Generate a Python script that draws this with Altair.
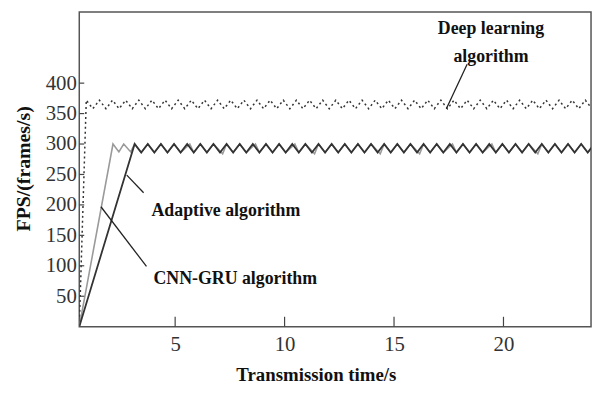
import altair as alt
import pandas as pd

# ---------------- data ----------------
# Adaptive algorithm (dark solid line)
adaptive_t = [0.62,
              3.15, 3.45, 3.75, 4.05, 4.35, 4.65, 4.95, 5.25, 5.55, 5.85,
              6.15, 6.45, 6.75, 7.05, 7.35, 7.65, 7.95, 8.25, 8.55, 8.85,
              9.15, 9.45, 9.75, 10.05, 10.35, 10.65, 10.95, 11.25, 11.55, 11.85,
              12.15, 12.45, 12.75, 13.05, 13.35, 13.65, 13.95, 14.25, 14.55, 14.85,
              15.15, 15.45, 15.75, 16.05, 16.35, 16.65, 16.95, 17.25, 17.55, 17.85,
              18.15, 18.45, 18.75, 19.05, 19.35, 19.65, 19.95, 20.25, 20.55, 20.85,
              21.15, 21.45, 21.75, 22.05, 22.35, 22.65, 22.95, 23.25, 23.55, 23.85,
              24.15]
adaptive_v = [0,
              300, 286, 300, 286, 300, 286, 300, 286, 300, 286,
              300, 286, 300, 286, 300, 286, 300, 286, 300, 286,
              300, 286, 300, 286, 300, 286, 300, 286, 300, 286,
              300, 286, 300, 286, 300, 286, 300, 286, 300, 286,
              300, 286, 300, 286, 300, 286, 300, 286, 300, 286,
              300, 286, 300, 286, 300, 286, 300, 286, 300, 286,
              300, 286, 300, 286, 300, 286, 300, 286, 300, 286,
              300]

# CNN-GRU algorithm (grey solid line)
cnn_t = [0.62, 2.16, 2.43, 2.65, 2.97,
         3.15, 3.45, 3.75, 4.05, 4.35, 4.65, 4.95, 5.25, 5.67, 5.85,
         6.15, 6.45, 6.75, 7.17, 7.35, 7.65, 7.95, 8.25, 8.67, 8.85,
         9.15, 9.45, 9.75, 10.05, 10.47, 10.65, 10.95, 11.37, 11.55, 11.85,
         12.15, 12.45, 12.75, 13.05, 13.35, 13.65, 13.95, 14.37, 14.55, 14.85,
         15.15, 15.45, 15.75, 16.17, 16.35, 16.65, 16.95, 17.25, 17.67, 17.85,
         18.15, 18.45, 18.75, 19.05, 19.47, 19.65, 19.95, 20.25, 20.55, 20.85,
         21.15, 21.57, 21.75, 22.05, 22.35, 22.65, 22.95, 23.25, 23.55, 23.85,
         24.15]
cnn_v = [0, 300, 287, 300, 287,
         300, 286, 300, 286, 300, 286, 300, 286, 300, 286,
         300, 286, 300, 284, 300, 286, 300, 286, 300, 286,
         300, 286, 300, 286, 300, 286, 300, 284, 300, 286,
         300, 286, 300, 286, 300, 286, 300, 284, 300, 286,
         300, 286, 300, 284, 300, 286, 300, 286, 300, 286,
         300, 286, 300, 286, 300, 286, 300, 286, 300, 286,
         300, 284, 300, 286, 300, 286, 300, 286, 300, 286,
         300]

# Deep learning algorithm (dotted line)
deep_t = [0.62,
          0.94, 1.24, 1.54, 1.84, 2.14, 2.44, 2.74, 3.04, 3.34, 3.64,
          3.94, 4.24, 4.54, 4.84, 5.14, 5.44, 5.74, 6.04, 6.34, 6.64,
          6.94, 7.24, 7.54, 7.84, 8.14, 8.44, 8.74, 9.04, 9.34, 9.64,
          9.94, 10.24, 10.54, 10.84, 11.14, 11.44, 11.74, 12.04, 12.34, 12.64,
          12.94, 13.24, 13.54, 13.84, 14.14, 14.44, 14.74, 15.04, 15.34, 15.64,
          15.94, 16.24, 16.54, 16.84, 17.14, 17.44, 17.74, 18.04, 18.34, 18.64,
          18.94, 19.24, 19.54, 19.84, 20.14, 20.44, 20.74, 21.04, 21.34, 21.64,
          21.94, 22.24, 22.54, 22.84, 23.14, 23.44, 23.74, 24.04]
deep_v = [0,
          372, 358, 372, 358, 372, 358, 372, 358, 372, 358,
          372, 358, 372, 358, 372, 358, 372, 358, 372, 358,
          372, 358, 372, 358, 372, 358, 372, 358, 372, 358,
          372, 358, 372, 358, 372, 358, 372, 358, 372, 358,
          372, 358, 372, 358, 372, 358, 372, 358, 372, 358,
          372, 358, 372, 358, 372, 358, 372, 358, 372, 358,
          372, 358, 372, 358, 372, 358, 372, 358, 372, 358,
          372, 358, 372, 358, 372, 358, 372, 358]

x_ticks = [5, 10, 15, 20]
y_ticks = [50, 100, 150, 200, 250, 300, 350, 400]
x_domain = [0.62, 24]
y_domain = [0, 517]

# annotation labels (data coordinates)
center_labels = ["Deep learning", "algorithm"]
center_t = [19.43, 19.43]
center_v = [480, 434]
left_labels = ["Adaptive algorithm", "CNN-GRU algorithm"]
left_t = [3.92, 4.01]
left_v = [182, 70]
# leader lines: start (t, v) -> end (t2, v2)
lead_t = [18.34, 2.79, 1.61]
lead_v = [431, 249, 197]
lead_t2 = [17.39, 3.56, 3.69]
lead_v2 = [358, 220, 99]

# ---------------- tables ----------------
def series_df(ts, vs, name):
    return pd.DataFrame({"t": ts, "v": vs, "series": name, "i": list(range(len(ts)))})

df_adapt = series_df(adaptive_t, adaptive_v, "Adaptive algorithm")
df_cnn = series_df(cnn_t, cnn_v, "CNN-GRU algorithm")
df_deep = series_df(deep_t, deep_v, "Deep learning algorithm")
df_ctext = pd.DataFrame({"t": center_t, "v": center_v, "label": center_labels})
df_ltext = pd.DataFrame({"t": left_t, "v": left_v, "label": left_labels})
df_lead = pd.DataFrame({"t": lead_t, "v": lead_v, "t2": lead_t2, "v2": lead_v2})
df_xt = pd.DataFrame({"t": x_ticks})
df_yt = pd.DataFrame({"v": y_ticks})

FONT = "Liberation Serif"

x_enc = alt.X("t:Q", scale=alt.Scale(domain=x_domain, nice=False, zero=False),
              axis=alt.Axis(values=x_ticks, labelPadding=7, title="Transmission time/s",
                            titleFontSize=19, titleX=239, titleY=54,
                            titleAlign="center", titleBaseline="alphabetic"))
y_enc = alt.Y("v:Q", scale=alt.Scale(domain=y_domain, nice=False, zero=False),
              axis=alt.Axis(values=y_ticks, labelPadding=3, title="FPS/(frames/s)",
                            titleFontSize=20, titleX=-56, titleY=158, titleAngle=270,
                            titleAlign="center", titleBaseline="middle"))

deep = alt.Chart(df_deep).mark_line(color="#333333", strokeWidth=1.5, strokeDash=[2, 3], clip=True).encode(
    x=x_enc, y=y_enc, order="i:Q")
cnn = alt.Chart(df_cnn).mark_line(color="#9a9a9a", strokeWidth=1.6, clip=True).encode(
    x=x_enc, y=y_enc, order="i:Q")
adapt = alt.Chart(df_adapt).mark_line(color="#333333", strokeWidth=1.8, clip=True).encode(
    x=x_enc, y=y_enc, order="i:Q")

leads = alt.Chart(df_lead).mark_rule(color="#222222", strokeWidth=1.3).encode(
    x=x_enc, y=y_enc, x2="t2:Q", y2="v2:Q")

ctext = alt.Chart(df_ctext).mark_text(font=FONT, fontSize=18, fontWeight="bold", color="#111111",
                                      align="center", baseline="alphabetic").encode(
    x=x_enc, y=y_enc, text="label:N")
ltext = alt.Chart(df_ltext).mark_text(font=FONT, fontSize=18, fontWeight="bold", color="#111111",
                                      align="left", baseline="alphabetic").encode(
    x=x_enc, y=y_enc, text="label:N")

xticks = alt.Chart(df_xt).mark_rule(color="#444444", strokeWidth=1.2).encode(
    x=x_enc, y=alt.value(318), y2=alt.value(308))
yticks = alt.Chart(df_yt).mark_rule(color="#444444", strokeWidth=1.2).encode(
    y=y_enc, x=alt.value(0), x2=alt.value(5))

chart = alt.layer(deep, cnn, adapt, leads, ctext, ltext, xticks, yticks).properties(
    width=517, height=318,
    padding={"left": 72, "top": 2, "right": 3, "bottom": 60},
    autosize=alt.AutoSizeParams(type="none"),
).configure_view(stroke="#555555", strokeWidth=1.5).configure_axis(
    grid=False, domain=False, ticks=False, tickSize=0,
    labelFont=FONT, labelFontSize=21, labelColor="#333333",
    titleFont=FONT, titleFontWeight="bold", titleColor="#111111",
)

chart.save("out.html", embed_options={"renderer": "svg", "actions": False})
